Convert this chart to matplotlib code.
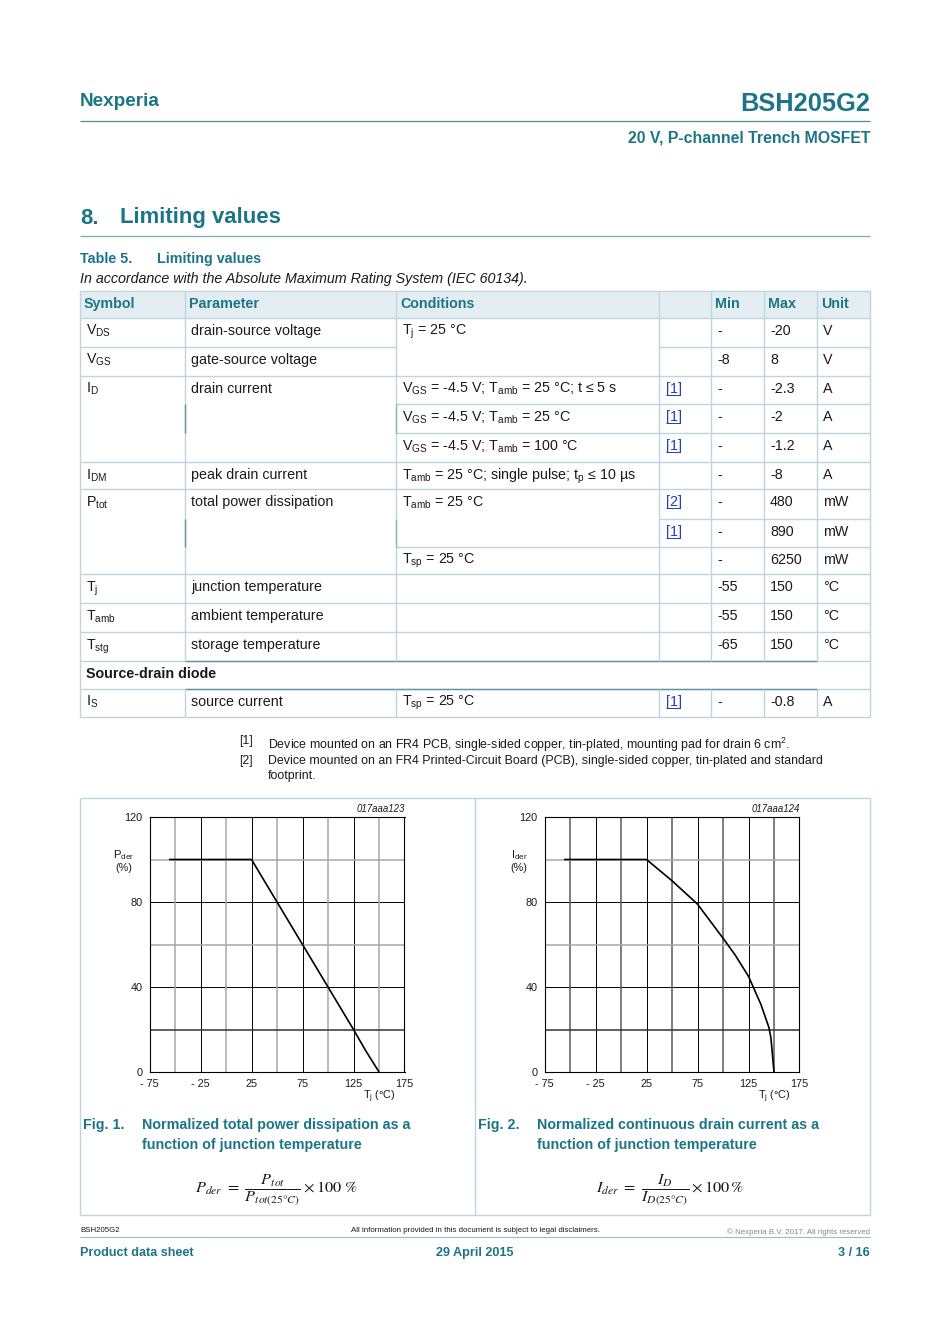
import matplotlib.pyplot as plt
from matplotlib.patches import Rectangle

plt.rcParams['font.family'] = ['Liberation Sans', 'DejaVu Sans']
plt.rcParams['mathtext.fontset'] = 'custom'
plt.rcParams['mathtext.rm'] = 'Liberation Sans'
plt.rcParams['mathtext.it'] = 'Liberation Sans:italic'
plt.rcParams['mathtext.bf'] = 'Liberation Sans:bold'

TEAL = '#1c7587'
BORDER = '#bcd5de'
DARKB = '#5f95a5'
INK = '#1a1a1a'
LINK = '#1f3fbf'


def sub(base, s):
    return base + r'$_{\mathrm{' + s + '}}$'


# ---- table 5 data ----
headers = ['Symbol', 'Parameter', 'Conditions', '', 'Min', 'Max', 'Unit']
symbols = [sub('V', 'DS'), sub('V', 'GS'), sub('I', 'D'), '', '', sub('I', 'DM'),
           sub('P', 'tot'), '', '', sub('T', 'j'), sub('T', 'amb'), sub('T', 'stg'),
           None, sub('I', 'S')]
params = ['drain-source voltage', 'gate-source voltage', 'drain current', '', '',
          'peak drain current', 'total power dissipation', '', '',
          'junction temperature', 'ambient temperature', 'storage temperature',
          None, 'source current']
conds = [sub('T', 'j') + ' = 25 °C', '',
         sub('V', 'GS') + ' = -4.5 V; ' + sub('T', 'amb') + ' = 25 °C; t ≤ 5 s',
         sub('V', 'GS') + ' = -4.5 V; ' + sub('T', 'amb') + ' = 25 °C',
         sub('V', 'GS') + ' = -4.5 V; ' + sub('T', 'amb') + ' = 100 °C',
         sub('T', 'amb') + ' = 25 °C; single pulse; ' + sub('t', 'p') + ' ≤ 10 µs',
         sub('T', 'amb') + ' = 25 °C', '', sub('T', 'sp') + ' = 25 °C',
         '', '', '', None, sub('T', 'sp') + ' = 25 °C']
notes = ['', '', '[1]', '[1]', '[1]', '', '[2]', '[1]', '', '', '', '', None, '[1]']
mins = ['-', '-8', '-', '-', '-', '-', '-', '-', '-', '-55', '-55', '-65', None, '-']
maxs = ['-20', '8', '-2.3', '-2', '-1.2', '-8', '480', '890', '6250',
        '150', '150', '150', None, '-0.8']
units = ['V', 'V', 'A', 'A', 'A', 'A', 'mW', 'mW', 'mW', '°C', '°C', '°C', None, 'A']
group_row = 12
group_label = 'Source-drain diode'

# ---- derating curves ----
tj_p = [-55, 25, 50, 75, 100, 125, 137, 150]
pder = [100, 100, 80, 60, 40, 20, 10, 0]
tj_i = [-55, 25, 50, 75, 100, 112, 125, 137, 145, 147, 150]
ider = [100, 100, 90, 79, 63, 55, 45, 32, 21, 16, 0]

W, H = 950, 1344
fig = plt.figure(figsize=(W / 100, H / 100), dpi=100)
bg = fig.add_axes([0, 0, 1, 1])
bg.set_xlim(0, W)
bg.set_ylim(H, 0)
bg.axis('off')


def hline(y, x0, x1, c=BORDER, lw=1.0):
    bg.plot([x0, x1], [y, y], color=c, lw=lw, solid_capstyle='butt')


def vline(x, y0, y1, c=BORDER, lw=1.0):
    bg.plot([x, x], [y0, y1], color=c, lw=lw, solid_capstyle='butt')


# ---- page header ----
bg.text(80, 101, 'Nexperia', color=TEAL, fontsize=13.6, fontweight='bold', va='center')
bg.text(870, 104, 'BSH205G2', color=TEAL, fontsize=18.3, fontweight='bold',
        va='center', ha='right')
hline(121, 80, 870, c='#4f8e9e', lw=0.9)
bg.text(870, 138, '20 V, P-channel Trench MOSFET', color=TEAL, fontsize=11.4,
        fontweight='bold', va='center', ha='right')
bg.text(80, 218, '8.', color=TEAL, fontsize=15.9, fontweight='bold', va='center')
bg.text(120, 218, 'Limiting values', color=TEAL, fontsize=15.9, fontweight='bold',
        va='center')
hline(236, 80, 870, c='#7fa9b6', lw=0.9)
bg.text(80, 259, 'Table 5.', color=TEAL, fontsize=10.3, fontweight='bold', va='center')
bg.text(157, 259, 'Limiting values', color=TEAL, fontsize=10.3, fontweight='bold',
        va='center')
bg.text(80, 279, 'In accordance with the Absolute Maximum Rating System (IEC 60134).',
        color=INK, fontsize=10.3, style='italic', va='center')

# ---- table ----
cols = [80, 185, 396, 659, 711, 764, 817, 870]
rows = [290.7, 317.7, 346.7, 375.7, 404.3, 433.3, 462.3, 489.3, 519, 546.7,
        574.3, 603.3, 632.3, 661, 689, 717.3]
bg.add_patch(Rectangle((80, rows[0]), 790, rows[1] - rows[0], color='#e4eef2', lw=0))
for j, h in enumerate(headers):
    bg.text(cols[j] + 4, rows[1] - 9.5, h, color=TEAL, fontsize=10.3,
            fontweight='bold', va='baseline')

partial = {2: (80, 396, 659, 870), 4: (396, 870), 5: (396, 870),
           8: (659, 870), 9: (396, 870)}
for i, y in enumerate(rows):
    if i in partial:
        seg = partial[i]
        for k in range(0, len(seg), 2):
            hline(y, seg[k], seg[k + 1])
    else:
        hline(y, 80, 870)
for y in (rows[13], rows[14]):
    hline(y, 185, 817, c=DARKB)
vline(80, rows[0], rows[-1])
vline(870, rows[0], rows[-1])
for x in cols[1:-1]:
    vline(x, rows[0], rows[13])
    vline(x, rows[14], rows[15])
vline(185, rows[4], rows[5], c=DARKB)
vline(185, rows[8], rows[9], c=DARKB)
vline(396, rows[4], rows[5], c='#8fb4c0')
vline(396, rows[8], rows[9], c='#8fb4c0')

for i in range(len(symbols)):
    yb = rows[i + 1] + 17
    if i == group_row:
        bg.text(86, yb, group_label, color=INK, fontsize=10.3, fontweight='bold',
                va='baseline')
        continue
    cells = [symbols[i], params[i], conds[i], None, mins[i], maxs[i], units[i]]
    for j, t in enumerate(cells):
        if t:
            bg.text(cols[j] + 6, yb, t, color=INK, fontsize=10.3, va='baseline')
    if notes[i]:
        bg.text(666, yb, notes[i], color=LINK, fontsize=10.3, va='baseline')
        hline(yb + 2, 666, 680, c=LINK, lw=0.7)

# ---- footnotes ----
bg.text(239, 744, '[1]', color=INK, fontsize=8.9, va='baseline')
bg.text(268, 749, 'Device mounted on an FR4 PCB, single-sided copper, tin-plated, '
        'mounting pad for drain 6 cm$^{2}$.', color=INK, fontsize=8.9, va='baseline')
bg.text(239, 764, '[2]', color=INK, fontsize=8.9, va='baseline')
bg.text(268, 764, 'Device mounted on an FR4 Printed-Circuit Board (PCB), single-sided '
        'copper, tin-plated and standard', color=INK, fontsize=8.9, va='baseline')
bg.text(268, 779, 'footprint.', color=INK, fontsize=8.9, va='baseline')

# ---- figure frames ----
hline(798, 80, 870)
hline(1215, 80, 870)
vline(80, 798, 1215)
vline(475, 798, 1215)
vline(870, 798, 1215)


def px_axes(x0, y0, x1, y1):
    return fig.add_axes([x0 / W, 1 - y1 / H, (x1 - x0) / W, (y1 - y0) / H])


def chart(ax, x, y, minor_v, code):
    ax.set_xlim(-75, 175)
    ax.set_ylim(0, 120)
    ax.set_xticks([-75, -25, 25, 75, 125, 175])
    ax.set_xticklabels(['- 75', '- 25', '25', '75', '125', '175'])
    ax.set_yticks([0, 40, 80, 120])
    ax.tick_params(length=0, labelsize=7.8, pad=5, colors=INK)
    ax.set_axisbelow(True)
    ax.grid(True, color='black', lw=0.7)
    for v in [-50, 0, 50, 100, 150]:
        ax.axvline(v, color=minor_v, lw=1.1, zorder=0.8)
    for hv, c in zip([20, 60, 100], ['#333333', '#a8a8a8', '#a8a8a8']):
        ax.axhline(hv, color=c, lw=1.1, zorder=0.8)
    for s in ax.spines.values():
        s.set_linewidth(0.8)
    ax.plot(x, y, color='black', lw=1.2, zorder=3)
    ax.text(1.0, 1.012, code, transform=ax.transAxes, ha='right', va='bottom',
            fontsize=6.9, style='italic', color=INK)


ax1 = px_axes(149.5, 817, 404.5, 1072)
chart(ax1, tj_p, pder, '#a8a8a8', '017aaa123')
ax2 = px_axes(544.5, 817, 799.5, 1072)
chart(ax2, tj_i, ider, '#5a5a5a', '017aaa124')

for dx, lab in [(0, 'P'), (395, 'I')]:
    bg.text(124 + dx, 858, sub(lab, 'der'), fontsize=8.2, ha='center', va='baseline',
            color=INK)
    bg.text(124 + dx, 871, '(%)', fontsize=7.8, ha='center', va='baseline', color=INK)
    bg.text(379 + dx, 1099, sub('T', 'j') + ' (°C)', fontsize=7.8, ha='center',
            va='baseline', color=INK)

# ---- captions ----
caps = [(83, 'Fig. 1.', ['Normalized total power dissipation as a',
                         'function of junction temperature']),
        (478, 'Fig. 2.', ['Normalized continuous drain current as a',
                          'function of junction temperature'])]
for x0, fg, lines in caps:
    bg.text(x0, 1125, fg, color=TEAL, fontsize=10.3, fontweight='bold', va='center')
    for k, ln in enumerate(lines):
        bg.text(x0 + 59, 1125 + 20 * k, ln, color=TEAL, fontsize=10.3,
                fontweight='bold', va='center')

bg.text(276, 1190, r'$P_{der}\ =\ \dfrac{P_{tot}}{P_{tot(25°C)}} \times 100\ \%$',
        math_fontfamily='stix', fontsize=11.8, ha='center', va='center', color=INK)
bg.text(670, 1190, r'$I_{der}\ =\ \dfrac{I_{D}}{I_{D(25°C)}} \times 100\,\%$',
        math_fontfamily='stix', fontsize=11.8, ha='center', va='center', color=INK)

# ---- footer ----
bg.text(80, 1231, 'BSH205G2', fontsize=5.7, color=INK, va='center')
bg.text(475, 1231, 'All information provided in this document is subject to legal '
        'disclaimers.', fontsize=5.7, color=INK, va='center', ha='center')
bg.text(870, 1232, '© Nexperia B.V. 2017. All rights reserved', fontsize=5.7,
        color='#888888', va='center', ha='right')
hline(1237, 80, 870, c='#9dbdc8', lw=0.8)
bg.text(80, 1253, 'Product data sheet', color=TEAL, fontsize=9.1, fontweight='bold',
        va='center')
bg.text(475, 1253, '29 April 2015', color=TEAL, fontsize=9.1, fontweight='bold',
        va='center', ha='center')
bg.text(870, 1253, '3 / 16', color=TEAL, fontsize=9.1, fontweight='bold',
        va='center', ha='right')

fig.savefig('out.png', dpi=100)
